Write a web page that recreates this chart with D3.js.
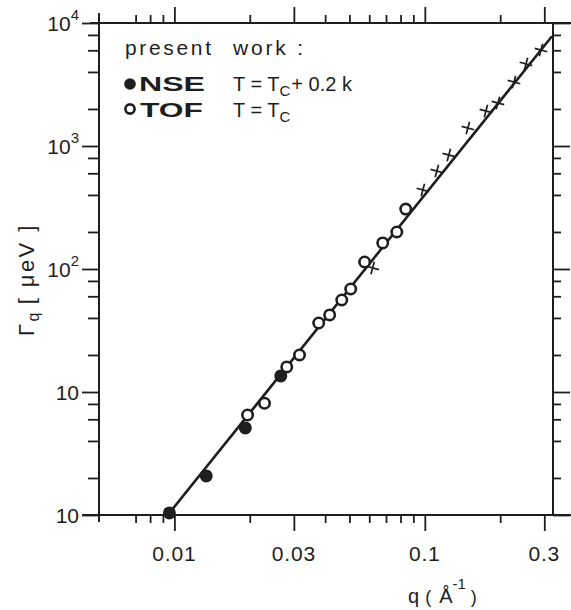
<!DOCTYPE html>
<html>
<head>
<meta charset="utf-8">
<script src="https://cdn.jsdelivr.net/npm/d3@7"></script>
<style>
  html, body { margin: 0; padding: 0; background: #ffffff; }
  svg { display: block; }
  text { font-family: "Liberation Sans", Arial, Helvetica, sans-serif; fill: #1e1e1e; }
</style>
</head>
<body>
<script>
// ---------------- data ----------------
// NSE (filled circles), T = Tc + 0.2 K
const nseQ = [0.00955, 0.0134, 0.0192, 0.0266];
const nseG = [1.04, 2.08, 5.1, 13.5];
// TOF (open circles), T = Tc
const tofQ = [0.0196, 0.0229, 0.0281, 0.0316, 0.0377, 0.0417, 0.0466, 0.0506, 0.0575, 0.0679, 0.0773, 0.0839];
const tofG = [6.5, 8.1, 16.0, 20.0, 36.4, 42.3, 56.0, 68.8, 114, 163, 200, 307];
// other data (crosses)
const crossQ = [0.0619, 0.0982, 0.1117, 0.1247, 0.1486, 0.1754, 0.1959, 0.227, 0.2535, 0.291];
const crossG = [102, 439, 626, 845, 1400, 1926, 2237, 3311, 4645, 6030];
// fitted line (end points)
const fitQ = [0.0093, 0.322];
const fitG = [0.97, 7800];

// axis ticks
const xDomain = [0.005, 0.325];
const yDomain = [1, 10000];
const xMajorTicks = [0.01, 0.03, 0.1, 0.3];
const xMajorLabels = ["0.01", "0.03", "0.1", "0.3"];
const xMinorTicks = [0.007, 0.008, 0.009, 0.02, 0.04, 0.05, 0.06, 0.07, 0.08, 0.09, 0.2];
const yMajorTicks = [1, 10, 100, 1000, 10000];
const yLabelBase = ["10", "10", "10", "10", "10"];
const yLabelExp = ["", "", "2", "3", "4"];
const yMinorTicks = [2, 4, 6, 8, 20, 40, 60, 80, 200, 400, 600, 800, 2000, 4000, 6000, 8000];

// ---------------- drawing ----------------
const W = 571, H = 610;
const L = 99, R = 553, T = 23, B = 515;
const ink = "#1e1e1e";

const svg = d3.select("body").append("svg").attr("width", W).attr("height", H);

const x = d3.scaleLog().domain(xDomain).range([L, R]);
const y = d3.scaleLog().domain(yDomain).range([B, T]);

function styleAxis(g) {
  g.select(".domain").remove();
  g.selectAll(".tick line").attr("stroke", ink).attr("stroke-width", 1.8);
  g.selectAll(".tick text").remove();
}

// bottom
svg.append("g").attr("transform", `translate(0,${B})`)
  .call(d3.axisBottom(x).tickValues(xMajorTicks).tickSize(16).tickFormat(""))
  .call(styleAxis);
svg.append("g").attr("transform", `translate(0,${B})`)
  .call(d3.axisBottom(x).tickValues(xMinorTicks).tickSize(8).tickFormat(""))
  .call(styleAxis);
// top
svg.append("g").attr("transform", `translate(0,${T})`)
  .call(d3.axisTop(x).tickValues(xMajorTicks).tickSize(16).tickFormat(""))
  .call(styleAxis);
svg.append("g").attr("transform", `translate(0,${T})`)
  .call(d3.axisTop(x).tickValues(xMinorTicks).tickSize(8).tickFormat(""))
  .call(styleAxis);
// left
svg.append("g").attr("transform", `translate(${L},0)`)
  .call(d3.axisLeft(y).tickValues(yMajorTicks).tickSize(17).tickFormat(""))
  .call(styleAxis);
svg.append("g").attr("transform", `translate(${L},0)`)
  .call(d3.axisLeft(y).tickValues(yMinorTicks).tickSize(11).tickFormat(""))
  .call(styleAxis);
// right
svg.append("g").attr("transform", `translate(${R},0)`)
  .call(d3.axisRight(y).tickValues(yMajorTicks).tickSize(17).tickFormat(""))
  .call(styleAxis);
svg.append("g").attr("transform", `translate(${R},0)`)
  .call(d3.axisRight(y).tickValues(yMinorTicks).tickSize(8).tickFormat(""))
  .call(styleAxis);

// frame lines (slightly overshooting like the original drawing)
const frame = svg.append("g").attr("stroke", ink).attr("stroke-width", 2).attr("fill", "none");
frame.append("line").attr("x1", 90).attr("x2", W).attr("y1", T).attr("y2", T);
frame.append("line").attr("x1", 82).attr("x2", W).attr("y1", B).attr("y2", B);
frame.append("line").attr("x1", L).attr("x2", L).attr("y1", 13).attr("y2", 522);
frame.append("line").attr("x1", R).attr("x2", R).attr("y1", T).attr("y2", B);

// x tick labels
svg.append("g").selectAll("text").data(xMajorTicks).join("text")
  .attr("x", d => x(d)).attr("y", B + 46)
  .attr("text-anchor", "middle").attr("font-size", 21).attr("letter-spacing", 0.8)
  .text((d, i) => xMajorLabels[i]);

// y tick labels
const yl = svg.append("g").selectAll("text").data(yMajorTicks).join("text")
  .attr("x", 79).attr("y", d => y(d) + 8)
  .attr("text-anchor", "end").attr("font-size", 21);
yl.append("tspan").text((d, i) => yLabelBase[i]);
yl.append("tspan").attr("font-size", 15).attr("dy", -11).text((d, i) => yLabelExp[i]);

// axis titles
const yt = svg.append("text")
  .attr("transform", "translate(34,336) rotate(-90)")
  .attr("font-size", 22).attr("letter-spacing", 2.4);
yt.append("tspan").text("Γ");
yt.append("tspan").attr("font-size", 16).attr("dy", 5).text("q");
yt.append("tspan").attr("dy", -5).attr("dx", 6).text("[ μeV ]");

const xt = svg.append("text").attr("x", 408).attr("y", 603).attr("font-size", 20);
xt.append("tspan").text("q");
xt.append("tspan").attr("dx", 6).attr("font-size", 18).text("(");
xt.append("tspan").attr("dx", 8).text("Å");
xt.append("tspan").attr("font-size", 15).attr("dy", -14).text("-1");
xt.append("tspan").attr("font-size", 18).attr("dy", 14).attr("dx", 5).text(")");

// fit line
svg.append("path")
  .datum(fitQ.map((q, i) => [q, fitG[i]]))
  .attr("d", d3.line().x(d => x(d[0])).y(d => y(d[1])))
  .attr("fill", "none").attr("stroke", ink).attr("stroke-width", 2.6);

// crosses
svg.append("g").selectAll("path").data(crossQ.map((q, i) => [q, crossG[i]])).join("path")
  .attr("transform", d => `translate(${x(d[0])},${y(d[1])}) rotate(15)`)
  .attr("d", "M-6.5,0H6.5M0,-6.5V6.5")
  .attr("stroke", ink).attr("stroke-width", 1.7).attr("fill", "none");

// TOF open circles
svg.append("g").selectAll("circle").data(tofQ.map((q, i) => [q, tofG[i]])).join("circle")
  .attr("cx", d => x(d[0])).attr("cy", d => y(d[1])).attr("r", 5.2)
  .attr("fill", "#ffffff").attr("stroke", ink).attr("stroke-width", 2.6);

// NSE filled circles
svg.append("g").selectAll("circle").data(nseQ.map((q, i) => [q, nseG[i]])).join("circle")
  .attr("cx", d => x(d[0])).attr("cy", d => y(d[1])).attr("r", 6.5)
  .attr("fill", ink);

// legend
svg.append("text").attr("x", 125).attr("y", 55).attr("font-size", 21)
  .attr("textLength", 86).attr("lengthAdjust", "spacing").text("present");
svg.append("text").attr("x", 233).attr("y", 55).attr("font-size", 21)
  .attr("textLength", 70).attr("lengthAdjust", "spacing").text("work :");

svg.append("circle").attr("cx", 130).attr("cy", 84).attr("r", 5.8).attr("fill", ink);
svg.append("text").attr("x", 139).attr("y", 91).attr("font-size", 21).attr("font-weight", "bold")
  .attr("textLength", 66).attr("lengthAdjust", "spacingAndGlyphs").text("NSE");
const t1 = svg.append("text").attr("x", 233).attr("y", 91).attr("font-size", 20);
t1.append("tspan").text("T = T");
t1.append("tspan").attr("font-size", 15).attr("dy", 5).text("C");
t1.append("tspan").attr("dy", -5).attr("dx", 1).text("+ 0.2 k");

svg.append("circle").attr("cx", 130).attr("cy", 109).attr("r", 4.6)
  .attr("fill", "#ffffff").attr("stroke", ink).attr("stroke-width", 2.6);
svg.append("text").attr("x", 140).attr("y", 117).attr("font-size", 21).attr("font-weight", "bold")
  .attr("textLength", 63).attr("lengthAdjust", "spacingAndGlyphs").text("TOF");
const t2 = svg.append("text").attr("x", 233).attr("y", 117).attr("font-size", 20);
t2.append("tspan").text("T = T");
t2.append("tspan").attr("font-size", 15).attr("dy", 5).text("C");
</script>
</body>
</html>
